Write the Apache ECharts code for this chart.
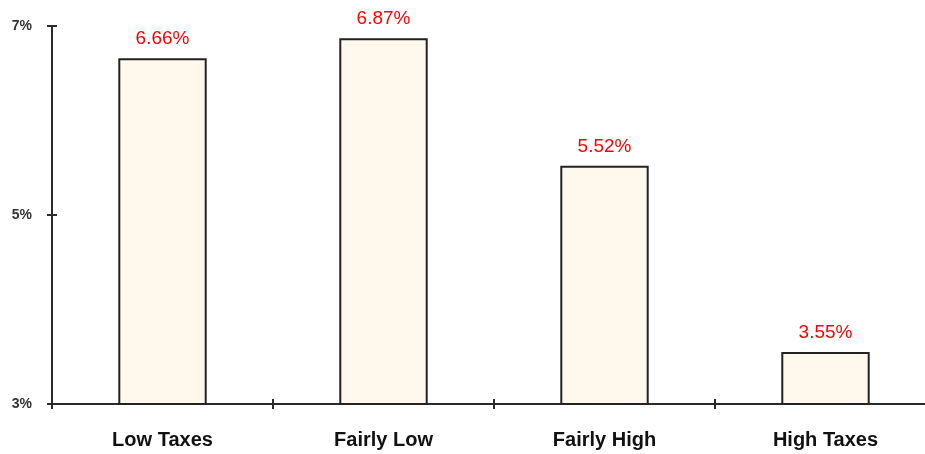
<!DOCTYPE html>
<html>
<head>
<meta charset="utf-8">
<script src="https://cdn.jsdelivr.net/npm/echarts@6/dist/echarts.min.js"></script>
<style>
  html, body { margin: 0; padding: 0; background: #ffffff; }
  #chart { width: 925px; height: 454px; }
</style>
</head>
<body>
<div id="chart"></div>
<script>
// Return groups by tax level
const categories = ['Low Taxes', 'Fairly Low', 'Fairly High', 'High Taxes'];
const returnsPct = [6.66, 6.87, 5.52, 3.55];
const yTicks = [3, 5, 7];

const axisColor = '#2a2a2a';

const chart = echarts.init(document.getElementById('chart'), null, { renderer: 'canvas' });

chart.setOption({
  animation: false,
  backgroundColor: '#ffffff',
  grid: { left: 52, top: 26, width: 884, height: 378, outerBoundsMode: 'none', containLabel: false },
  xAxis: [
    {
      type: 'category',
      data: categories,
      boundaryGap: true,
      axisLine: { lineStyle: { color: axisColor, width: 2 } },
      axisTick: { show: true, length: 5, lineStyle: { color: axisColor, width: 2 } },
      axisLabel: {
        color: '#111',
        fontFamily: 'Liberation Sans, Arial, sans-serif',
        fontWeight: 'bold',
        fontSize: 20,
        margin: 26
      },
      splitLine: { show: false }
    },
    {
      // inward half of the crossing tick marks
      type: 'category',
      data: categories,
      position: 'bottom',
      boundaryGap: true,
      axisLine: { show: false },
      axisTick: { show: true, inside: true, length: 5, lineStyle: { color: axisColor, width: 2 } },
      axisLabel: { show: false },
      splitLine: { show: false }
    }
  ],
  yAxis: [
    {
      type: 'value',
      min: 3,
      max: 7,
      position: 'left',
      axisLine: { show: true, lineStyle: { color: axisColor, width: 2 } },
      axisTick: { show: true, length: 5, customValues: yTicks, lineStyle: { color: axisColor, width: 2 } },
      axisLabel: {
        customValues: yTicks,
        formatter: v => v + '%',
        color: '#333',
        fontFamily: 'Liberation Sans, Arial, sans-serif',
        fontWeight: 'bold',
        fontSize: 14,
        margin: 20
      },
      splitLine: { show: false }
    },
    {
      type: 'value',
      min: 3,
      max: 7,
      position: 'left',
      offset: 0,
      axisLine: { show: true, lineStyle: { color: 'rgba(0,0,0,0)' } },
      axisTick: { show: true, inside: true, length: 5, customValues: yTicks, lineStyle: { color: axisColor, width: 2 } },
      axisLabel: { show: false },
      splitLine: { show: false }
    }
  ],
  series: [
    {
      type: 'bar',
      xAxisIndex: 0,
      yAxisIndex: 0,
      data: returnsPct,
      barWidth: '40%',
      itemStyle: { color: '#fff9ed', borderColor: '#222', borderWidth: 2 },
      label: {
        show: true,
        position: 'top',
        distance: 10,
        formatter: p => p.value.toFixed(2) + '%',
        color: '#ff0000',
        fontFamily: 'Liberation Sans, Arial, sans-serif',
        fontSize: 19
      }
    }
  ]
});
</script>
</body>
</html>
